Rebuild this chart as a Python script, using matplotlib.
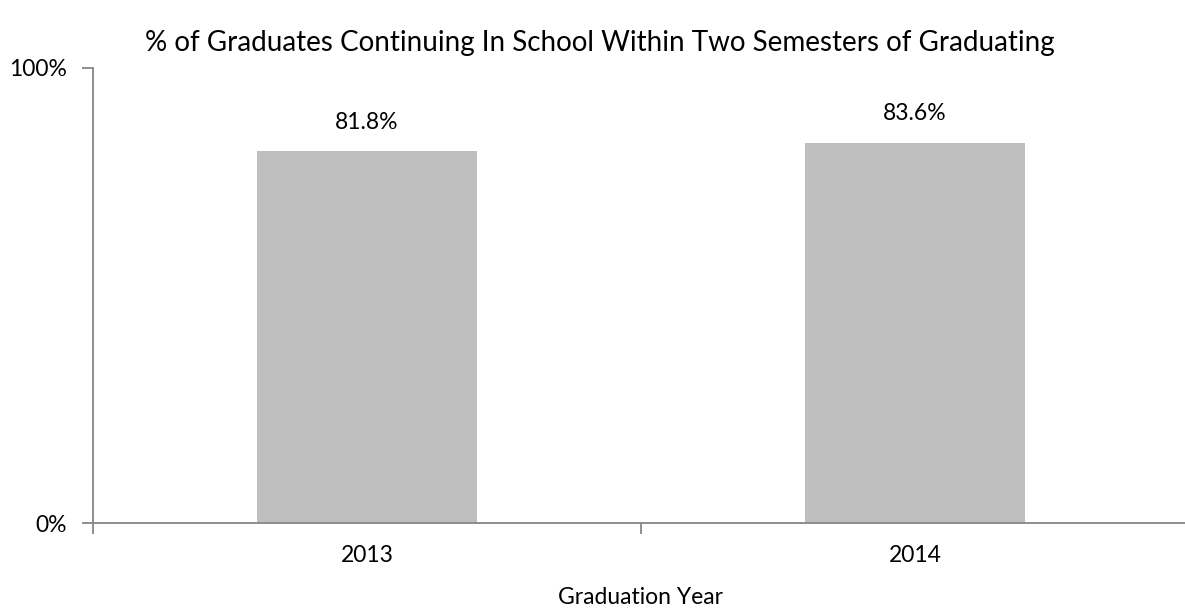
import matplotlib.pyplot as plt
import numpy as np

plt.rcParams['font.family'] = ['Lato', 'DejaVu Sans']

# data
years = ['2013', '2014']
pct_continuing = [81.8, 83.6]

fig = plt.figure(figsize=(11.85, 6.12), dpi=100)
ax = fig.add_axes([93 / 1185, 89 / 612, 1096 / 1185, 455 / 612])

x = np.arange(len(years))
ax.bar(x, pct_continuing, width=0.40, color='#BFBFBF')

for xi, v in zip(x, pct_continuing):
    ax.text(xi, v + 4, f'{v:.1f}%', ha='center', va='bottom', fontsize=16.5)

ax.set_xlim(-0.5, len(years) - 0.5)
ax.set_ylim(0, 100)

ax.set_yticks([0, 100])
ax.set_yticklabels(['0%', '100%'], fontsize=16.5)
ax.set_xticks(x)
ax.set_xticklabels(years, fontsize=16.5)
ax.set_xticks(np.arange(len(years) + 1) - 0.5, minor=True)

ax.tick_params(axis='x', which='major', length=0, pad=16)
ax.tick_params(axis='x', which='minor', length=8, color='#868686', width=1.3)
ax.tick_params(axis='y', length=8, color='#868686', width=1.3, pad=11)

for s in ['top', 'right']:
    ax.spines[s].set_visible(False)
for s in ['left', 'bottom']:
    ax.spines[s].set_color('#868686')
    ax.spines[s].set_linewidth(1.3)

ax.set_xlabel('Graduation Year', fontsize=16.5, labelpad=15)
fig.text(600 / 1185, 1 - 43 / 612, '% of Graduates Continuing In School Within Two Semesters of Graduating',
         ha='center', va='center', fontsize=20)

fig.savefig('out.png', dpi=100)
